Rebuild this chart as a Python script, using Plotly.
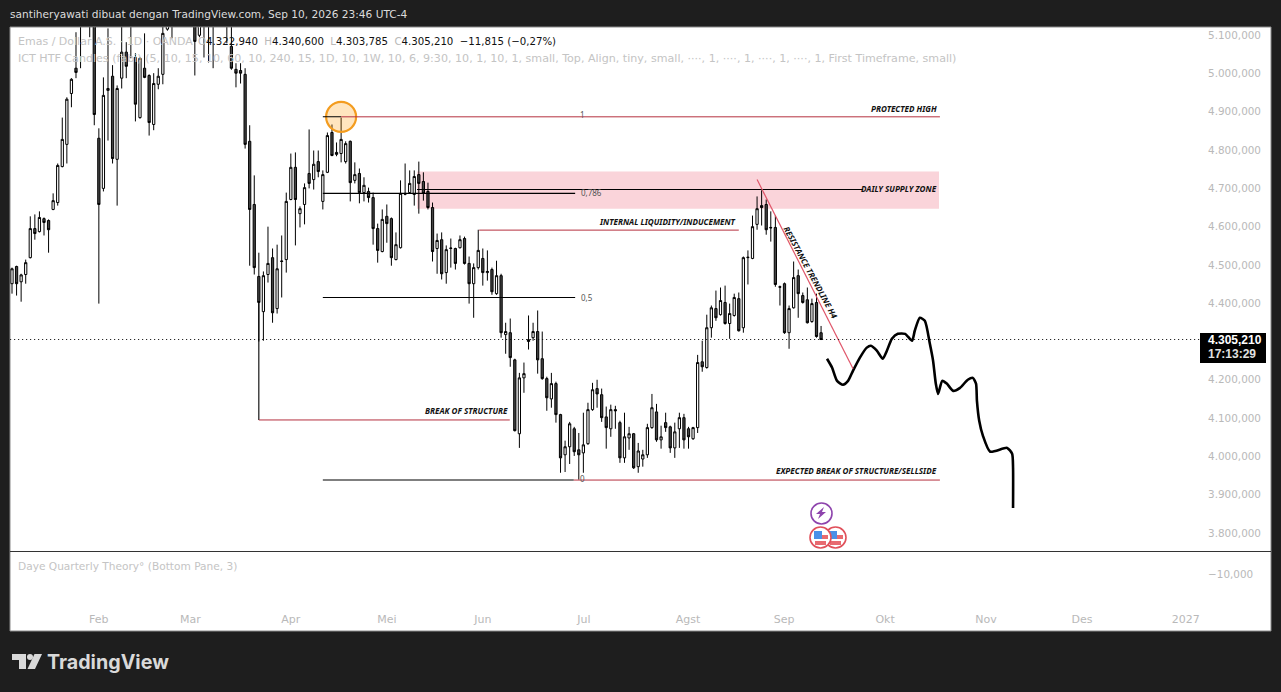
import plotly.graph_objects as go

W, H = 1281, 692

# Daily OHLC (thousands on the displayed price scale), left to right
opens = [4451,4496,4456,4475,4519,4595,4587,4621,4616,4645,
 4663,4757,4815,4948,5014,5140,5190,5180,5150,4831,
 4700,4956,4993,4776,4988,5056,5150,5042,4885,5014,
 4995,4867,4972,4998,5116,5180,5150,5230,5260,5230,
 5130,5100,5170,5140,5170,5130,5200,5170,5071,5011,
 5008,4998,4823,4658,4470,4378,4475,4519,4386,4509,
 4514,4671,4755,4634,4658,4739,4723,4770,4666,4742,
 4846,4794,4791,4770,4823,4721,4739,4689,4692,4676,
 4595,4535,4627,4621,4514,4545,4687,4689,4684,4736,
 4718,4692,4650,4543,4566,4480,4543,4543,4545,4569,
 4504,4451,4493,4517,4480,4488,4425,4472,4318,4323,
 4252,4059,4205,4300,4310,4326,4255,4203,4150,4190,
 4109,4004,4025,4072,4017,4009,4033,4122,4177,4161,
 4103,4072,4122,4088,3996,4048,4059,3973,3993,4004,
 4075,4116,4043,4088,4077,4022,4072,4101,4072,4046,
 4075,4247,4232,4336,4386,4370,4402,4347,4368,4412,
 4336,4519,4517,4606,4655,4658,4598,4598,4443,4451,
 4323,4388,4472,4420,4409,4352,4402,4322.94]
highs = [4493,4498,4477,4514,4627,4632,4640,4624,4619,4687,
 4765,4885,4938,4988,5108,5220,5260,5230,5190,4857,
 4990,5118,5022,4969,5130,5082,5190,5053,5042,5105,
 4998,5001,5014,5140,5200,5220,5260,5290,5310,5290,
 5190,5180,5230,5210,5240,5230,5260,5220,5130,5027,
 5027,5014,4865,4734,4532,4483,4600,4543,4553,4577,
 4689,4791,4794,4653,4713,4854,4799,4799,4747,4846,
 4867,4820,4885,4823,4825,4768,4752,4729,4702,4689,
 4608,4645,4658,4624,4585,4721,4765,4747,4747,4770,
 4742,4715,4663,4582,4585,4551,4569,4545,4577,4574,
 4522,4504,4592,4543,4538,4493,4511,4477,4349,4360,
 4255,4218,4245,4368,4349,4381,4326,4208,4218,4195,
 4111,4041,4090,4077,4061,4114,4140,4192,4200,4177,
 4130,4135,4132,4093,4114,4077,4061,4035,4017,4085,
 4163,4137,4080,4114,4080,4088,4114,4111,4077,4077,
 4265,4302,4370,4394,4433,4441,4446,4399,4425,4428,
 4522,4538,4629,4679,4695,4671,4640,4629,4446,4454,
 4394,4509,4488,4428,4441,4412,4425,4340.6]
lows = [4425,4420,4404,4451,4517,4566,4585,4577,4532,4643,
 4655,4755,4765,4912,4988,5014,5130,5095,4865,4399,
 4692,4825,4765,4655,4961,4988,5040,4875,4882,4988,
 4838,4852,4959,4972,5112,5092,5130,5190,5200,5180,
 4995,5095,5042,5029,5014,5125,5140,5079,5010,4964,
 4974,4804,4498,4475,4300,4302,4454,4349,4373,4415,
 4480,4669,4551,4598,4606,4700,4697,4729,4645,4740,
 4784,4784,4768,4765,4666,4713,4661,4666,4663,4553,
 4506,4533,4558,4498,4512,4543,4682,4686,4655,4634,
 4668,4645,4509,4477,4462,4451,4493,4488,4543,4501,
 4399,4362,4488,4446,4459,4422,4422,4310,4268,4234,
 4065,4022,4166,4279,4302,4216,4200,4119,4127,4088,
 3957,3959,3980,4001,3939,3957,4030,4119,4127,4090,
 4020,4051,4072,3983,3983,4017,3967,3957,3973,3996,
 4072,4038,4020,4064,4009,3996,4022,4020,4020,4043,
 4061,4221,4229,4310,4354,4368,4344,4307,4365,4326,
 4323,4449,4515,4592,4603,4579,4561,4443,4394,4320,
 4281,4386,4362,4399,4347,4349,4310,4303.785]
closes = [4490,4451,4474,4506,4595,4582,4624,4611,4592,4668,
 4760,4828,4933,4985,5003,5190,5240,5150,4893,4658,
 4943,4961,4778,4961,5056,5019,5130,4920,5040,4990,
 4872,4974,4993,5105,5170,5150,5230,5260,5230,5270,
 5084,5150,5140,5170,5130,5200,5170,5135,5014,5001,
 5001,4815,4645,4493,4402,4472,4504,4375,4490,4510,
 4666,4755,4671,4647,4702,4713,4763,4744,4736,4838,
 4786,4789,4828,4817,4715,4736,4689,4708,4676,4595,
 4538,4619,4608,4519,4553,4687,4685,4713,4731,4713,
 4687,4650,4535,4564,4477,4540,4544,4504,4566,4504,
 4451,4493,4538,4480,4483,4430,4472,4323,4326,4258,
 4067,4205,4216,4305,4326,4252,4203,4153,4190,4109,
 3996,4025,4085,4012,4004,4030,4122,4174,4163,4101,
 4075,4122,4119,3996,4051,4059,3970,4014,4004,4075,
 4127,4043,4051,4075,4022,4064,4101,4043,4051,4075,
 4245,4234,4336,4388,4362,4407,4347,4373,4415,4328,
 4519,4520,4600,4647,4650,4592,4597,4449,4442,4323,
 4386,4467,4425,4402,4349,4399,4313,4305.21]

# Hand-drawn projection (bar position, price)
sketch_x = [178.3,179.4,180.5,181.8,182.9,184.0,185.5,187.0,187.9,189.2,190.5,191.4,192.5,193.8,195.4,196.9,197.5,198.6,199.7,200.8,201.5,202.1,202.6,203.5,204.5,205.9,207.4,209.1,210.2,210.9,211.1,211.6,212.4,214.0,217.7,218.8,219.0,219.0]
sketch_y = [4255,4232,4197,4187,4197,4224,4258,4284,4289,4276,4255,4276,4307,4320,4320,4302,4328,4362,4354,4294,4250,4190,4163,4197,4190,4171,4179,4200,4205,4190,4145,4093,4054,4012,4022,4007,3970,3865]

price_ticks = [5100,5000,4900,4800,4700,4600,4500,4400,4200,4100,4000,3900,3800]
month_labels = ["Feb","Mar","Apr","Mei","Jun","Jul","Agst","Sep","Okt","Nov","Des","2027"]
month_pos = [19.0,39.0,61.0,82.0,103.0,125.1,147.9,168.9,191.0,213.1,234.1,256.8]

fib_levels = {"1":4887,"0,786":4687,"0,5":4415,"0":3938}
last_close = 4305.21
zone_top, zone_bottom = 4744, 4647
supply_line = 4697
inducement = 4591
bos = 4095

LAB = "#b9b9b9"
RED = "#b5303f"
def px(x): return x / W
def py(y): return 1 - y / H
def poly(points):
    return "M" + " L".join(f"{px(a):.5f},{py(b):.5f}" for a, b in points) + " Z"

n = len(opens)
fig = go.Figure()
fig.add_trace(go.Candlestick(
    x=list(range(n)), open=opens, high=highs, low=lows, close=closes,
    increasing=dict(line=dict(color="#000000", width=1), fillcolor="#ffffff"),
    decreasing=dict(line=dict(color="#000000", width=1), fillcolor="#444444"),
    whiskerwidth=0, hoverinfo="skip", showlegend=False))
fig.add_trace(go.Scatter(x=sketch_x, y=sketch_y, mode="lines", showlegend=False, hoverinfo="skip",
    line=dict(color="#000000", width=2.6, shape="spline", smoothing=0.6)))
fig.add_trace(go.Scatter(x=[72], y=[fib_levels["1"]], mode="markers", showlegend=False, hoverinfo="skip",
    marker=dict(size=30, color="rgba(255,152,0,0.25)", line=dict(color="#f39c1f", width=2.2))))
fig.add_trace(go.Scatter(x=[0], y=[-10], mode="markers", opacity=0, showlegend=False, hoverinfo="skip", yaxis="y2"))

def hline(x0, x1, y, color="#000000", w=1.1):
    return dict(type="line", xref="x", yref="y", x0=x0, x1=x1, y0=y, y1=y, line=dict(color=color, width=w), layer="above")
def prect(x0, y0, x1, y1, fill, line=None, kind="rect", layer="above", lw=1):
    return dict(type=kind, xref="paper", yref="paper", x0=px(x0), x1=px(x1), y0=py(y0), y1=py(y1),
                fillcolor=fill, line=dict(color=line or fill, width=lw if line else 0), layer=layer)
def ppath(points, fill):
    return dict(type="path", xref="paper", yref="paper", path=poly(points), fillcolor=fill, line=dict(width=0), layer="above")
def flag(x0, y0):
    d = 21
    return [prect(x0, y0, x0+d, y0+d, "#ffffff", "#e0505a", "circle", lw=1.6),
            prect(x0+11, y0+8, x0+18, y0+12, "#e86a70"),
            prect(x0+5, y0+14, x0+16, y0+18, "#e86a70"),
            prect(x0+4, y0+4, x0+12, y0+12, "#4a90e8")]

shapes = [
    prect(10, 27, 1271, 631, "#ffffff", "#8a8a8a", layer="below"),
    dict(type="rect", xref="x", yref="y", x0=88.6, x1=202.8, y0=zone_bottom, y1=zone_top,
         fillcolor="#fad4da", line=dict(width=0), layer="below"),
    hline(68.0, 72.0, fib_levels["1"]), hline(72.0, 203.0, fib_levels["1"], RED, 1),
    hline(68.0, 123.2, fib_levels["0,786"]), hline(88.6, 186.2, supply_line),
    hline(102.2, 159.0, inducement, RED, 1),
    hline(68.0, 123.2, fib_levels["0,5"]),
    dict(type="line", xref="x", yref="y", x0=54, x1=54, y0=4402, y1=bos, line=dict(color="#000000", width=1.1), layer="above"),
    hline(54.0, 108.9, bos, RED, 1),
    hline(68.0, 122.9, fib_levels["0"]), hline(122.9, 203.0, fib_levels["0"], RED, 1),
    dict(type="line", xref="x", yref="y", x0=163, x1=184, y0=4723, y1=4229, line=dict(color="#e0566a", width=1.2), layer="above"),
    dict(type="line", xref="x", yref="y", x0=-0.4, x1=n + 82, y0=last_close, y1=last_close,
         line=dict(color="#000000", width=1, dash="1px,3px"), layer="above"),
    dict(type="line", xref="paper", yref="paper", x0=px(10), x1=px(1271), y0=py(551.5), y1=py(551.5),
         line=dict(color="#333333", width=1.2), layer="above"),
    prect(1200, 333, 1266, 363, "#000000"),
    prect(811, 503, 832, 524, "#ffffff", "#8e44ad", "circle", lw=1.6),
    ppath([(824,507),(816,514),(820,514),(818,519),(826,512),(822,512)], "#8e44ad"),
    *flag(825, 527), *flag(810, 527),
    ppath([(12,654),(26,654),(26,669),(19,669),(19,660),(12,660)], "#d9d9d9"),
    ppath([(42,654),(35,669),(27.5,669),(34.5,654)], "#d9d9d9"),
    prect(27, 654, 33, 660, "#d9d9d9", None, "circle"),
]

FF = "DejaVu Sans"
LBL = "Noto Sans"
def note(x, y, text, size=8.1, color="#111111", anchor="right", angle=0, family=LBL):
    return dict(x=x, y=y, xref="x", yref="y", text=text, showarrow=False, xanchor=anchor, yanchor="middle",
                textangle=angle, font=dict(family=family, size=size, color=color))
def label(x, y, text, size=10, color=LAB, anchor="left", family=FF):
    return dict(x=px(x), y=py(y), xref="paper", yref="paper", text=text, showarrow=False, xanchor=anchor,
                yanchor="middle", font=dict(family=family, size=size, color=color))
def BI(t): return f"<b><i>{t}</i></b>"
def ohlc(letter, value):
    return f'<span style="color:{LAB}">{letter}</span>{value}'

annotations = [
    note(202.9, 4910, BI("PROTECTED HIGH")),
    note(202.9, 4699, BI("DAILY SUPPLY ZONE"), anchor="right"),
    note(158.9, 4614, BI("INTERNAL LIQUIDITY/INDUCEMENT")),
    note(109.0, 4119, BI("BREAK OF STRUCTURE")),
    note(202.9, 3963, BI("EXPECTED BREAK OF STRUCTURE/SELLSIDE")),
    note(174.8, 4480, BI("RESISTANCE TRENDLINE H4"), angle=61.5, anchor="center"),
    note(124.9, 4893, "1", size=8, color="#555555", anchor="center"),
    note(124.1, 4689, "0,786", size=8, color="#555555", anchor="left"),
    note(124.1, 4414, "0,5", size=8, color="#555555", anchor="left"),
    note(124.9, 3941, "0", size=8, color="#555555", anchor="center"),
    label(8, 14, "santiheryawati dibuat dengan TradingView.com, Sep 10, 2026 23:46 UTC-4", 10.6, "#dcdcdc"),
    label(16, 41, "Emas / Dollar A.S. · 1D · OANDA", 11, "#c4c4c4"),
    label(196, 41, ohlc("O", "4.322,940") + "  " + ohlc("H", "4.340,600") + "  " + ohlc("L", "4.303,785") + "  " + ohlc("C", "4.305,210") + "  −11,815 (−0,27%)", 10.2, "#111111"),
    label(16, 59, "ICT HTF Candles (fabi) (5, 10, 15, 10, 60, 10, 240, 15, 1D, 10, 1W, 10, 6, 9:30, 10, 1, 10, 1, small, Top, Align, tiny, small, ····, 1, ····, 1, ····, 1, ····, 1, First Timeframe, small)", 11.1, "#c4c4c4"),
    label(16, 566, "Daye Quarterly Theory° (Bottom Pane, 3)", 10.6, "#c4c4c4"),
    label(1206, 340, "<b>4.305,210</b>", 12, "#ffffff", family="Liberation Sans"),
    label(1206, 354, "<b>17:13:29</b>", 12, "#e0e0e0", family="Liberation Sans"),
    label(45, 662, "<b>TradingView</b>", 19.7, "#d9d9d9", family="Inter"),
]

fig.update_layout(
    width=W, height=H, margin=dict(l=0, r=0, t=0, b=0), autosize=False,
    paper_bgcolor="#1e1e1e", plot_bgcolor="rgba(0,0,0,0)", hovermode=False, dragmode=False,
    showlegend=False, separators=",.", shapes=shapes, annotations=annotations,
    font=dict(family=FF, color=LAB, size=11),
    xaxis=dict(domain=[px(10), px(1200)], range=[-2 / 4.571, 1188 / 4.571], anchor="y2", showgrid=False, zeroline=False,
               showline=False, rangeslider=dict(visible=False), tickmode="array", tickvals=month_pos,
               ticktext=month_labels, ticks="outside", ticklen=1, tickcolor="rgba(0,0,0,0)",
               tickfont=dict(family=FF, size=11, color=LAB), fixedrange=True),
    yaxis=dict(domain=[py(551.25), py(27.25)], range=[3752, 5121], side="right", anchor="x", showgrid=False, zeroline=False,
               showline=False, tickmode="array", tickvals=price_ticks, tickformat=",.3f", ticks="outside", ticklen=5,
               tickcolor="rgba(0,0,0,0)", tickfont=dict(family=FF, size=10.4, color=LAB), fixedrange=True),
    yaxis2=dict(domain=[py(608), py(552)], range=[-25.5, 0], side="right", anchor="x", showgrid=False, zeroline=False,
                showline=False, tickmode="array", tickvals=[-10], tickformat=",.3f", ticks="outside", ticklen=5,
                tickcolor="rgba(0,0,0,0)", tickfont=dict(family=FF, size=10.4, color=LAB), fixedrange=True),
)

fig.write_html("out.html", config=dict(displayModeBar=False), post_script="document.body.style.margin='0';document.body.style.background='#1e1e1e';document.body.style.overflow='hidden';")
